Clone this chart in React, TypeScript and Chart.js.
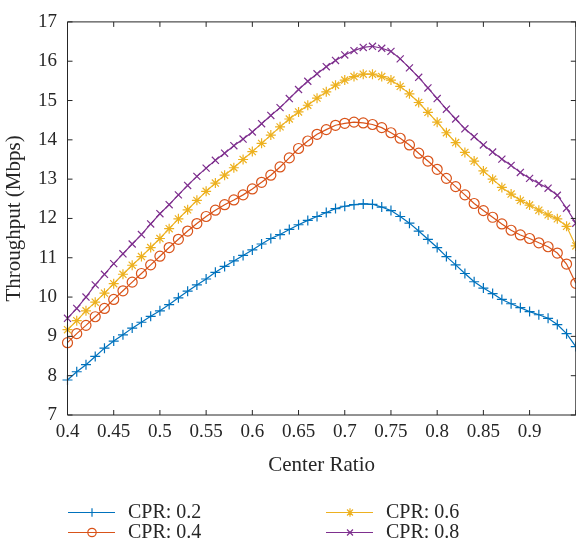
import React, { useEffect, useRef } from "react";
import { Chart, registerables } from "chart.js";
import { drawPoint } from "chart.js/helpers";

Chart.register(...registerables);

const centerRatio = [
  0.4, 0.41, 0.42, 0.43, 0.44, 0.45, 0.46, 0.47, 0.48, 0.49,
  0.5, 0.51, 0.52, 0.53, 0.54, 0.55, 0.56, 0.57, 0.58, 0.59,
  0.6, 0.61, 0.62, 0.63, 0.64, 0.65, 0.66, 0.67, 0.68, 0.69,
  0.7, 0.71, 0.72, 0.73, 0.74, 0.75, 0.76, 0.77, 0.78, 0.79,
  0.8, 0.81, 0.82, 0.83, 0.84, 0.85, 0.86, 0.87, 0.88, 0.89,
  0.9, 0.91, 0.92, 0.93, 0.94, 0.95,
];

const cpr02 = [
  7.89, 8.1, 8.28, 8.49, 8.7, 8.88, 9.04, 9.21, 9.36, 9.51,
  9.65, 9.81, 9.98, 10.15, 10.31, 10.46, 10.63, 10.78, 10.92, 11.06,
  11.2, 11.35, 11.49, 11.59, 11.72, 11.84, 11.95, 12.05, 12.15, 12.25,
  12.31, 12.35, 12.37, 12.36, 12.29, 12.2, 12.05, 11.88, 11.68, 11.47,
  11.26, 11.03, 10.82, 10.6, 10.39, 10.23, 10.09, 9.94, 9.83, 9.73,
  9.63, 9.55, 9.46, 9.3, 9.07, 8.74,
];

const cpr04 = [
  8.84, 9.07, 9.28, 9.5, 9.71, 9.94, 10.16, 10.38, 10.6, 10.82,
  11.04, 11.26, 11.47, 11.68, 11.87, 12.05, 12.21, 12.35, 12.47, 12.6,
  12.75, 12.92, 13.1, 13.31, 13.54, 13.78, 13.97, 14.14, 14.26, 14.37,
  14.42, 14.45, 14.43, 14.39, 14.31, 14.18, 14.04, 13.87, 13.66, 13.46,
  13.25, 13.02, 12.81, 12.6, 12.38, 12.2, 12.03, 11.86, 11.7, 11.58,
  11.49, 11.38, 11.28, 11.12, 10.84, 10.35,
];

const cpr06 = [
  9.17, 9.4, 9.65, 9.87, 10.1, 10.34, 10.58, 10.81, 11.03, 11.26,
  11.49, 11.74, 11.99, 12.22, 12.46, 12.69, 12.9, 13.1, 13.29, 13.5,
  13.7, 13.91, 14.12, 14.33, 14.53, 14.71, 14.88, 15.06, 15.22, 15.39,
  15.52, 15.61, 15.67, 15.67, 15.61, 15.52, 15.36, 15.17, 14.95, 14.7,
  14.45, 14.18, 13.93, 13.68, 13.46, 13.21, 13.0, 12.79, 12.62, 12.46,
  12.34, 12.21, 12.09, 11.99, 11.8, 11.3,
];

const cpr08 = [
  9.46, 9.71, 10.0, 10.31, 10.58, 10.85, 11.1, 11.35, 11.59, 11.86,
  12.12, 12.35, 12.6, 12.84, 13.07, 13.28, 13.48, 13.66, 13.85, 14.02,
  14.2, 14.41, 14.62, 14.82, 15.05, 15.28, 15.49, 15.68, 15.86, 16.02,
  16.16, 16.27, 16.35, 16.38, 16.33, 16.25, 16.06, 15.83, 15.59, 15.32,
  15.05, 14.78, 14.53, 14.28, 14.08, 13.87, 13.69, 13.51, 13.35, 13.17,
  13.02, 12.89, 12.77, 12.59, 12.26, 11.88,
];

const seriesLabels = ["CPR: 0.2", "CPR: 0.4", "CPR: 0.6", "CPR: 0.8"];
const xTicks = [0.4, 0.45, 0.5, 0.55, 0.6, 0.65, 0.7, 0.75, 0.8, 0.85, 0.9, 0.95];
const xTickLabels = ["0.4", "0.45", "0.5", "0.55", "0.6", "0.65", "0.7", "0.75", "0.8", "0.85", "0.9", ""];
const yTicks = [7, 8, 9, 10, 11, 12, 13, 14, 15, 16, 17];
const yTickLabels = ["7", "8", "9", "10", "11", "12", "13", "14", "15", "16", "17"];

const colors = ["#0072BD", "#D95319", "#EDB120", "#7E2F8E"];
const markers = ["cross", "circle", "star", "crossRot"];
const FONT = "'Liberation Serif', 'Times New Roman', serif";
const TEXT = "#262626";

const CANVAS_W = 582;
const CANVAS_H = 548;

const boxPlugin = {
  id: "matlabBox",
  afterDatasetsDraw(chart: any) {
    const { ctx, chartArea } = chart;
    const { left, right, top, bottom } = chartArea;
    const xs = chart.scales.x;
    const ys = chart.scales.y;
    const tl = 5;
    ctx.save();
    ctx.strokeStyle = TEXT;
    ctx.lineWidth = 1;
    ctx.beginPath();
    ctx.rect(left, top, right - left, bottom - top);
    xTicks.forEach((v) => {
      const px = xs.getPixelForValue(v);
      ctx.moveTo(px, bottom);
      ctx.lineTo(px, bottom - tl);
      ctx.moveTo(px, top);
      ctx.lineTo(px, top + tl);
    });
    yTicks.forEach((v) => {
      const py = ys.getPixelForValue(v);
      ctx.moveTo(left, py);
      ctx.lineTo(left + tl, py);
      ctx.moveTo(right, py);
      ctx.lineTo(right - tl, py);
    });
    ctx.stroke();
    ctx.restore();
  },
};

const legendRows = [512.5, 532.5];
const legendCols = [68, 326];

const legendPlugin = {
  id: "matlabLegend",
  afterDraw(chart: any) {
    const { ctx } = chart;
    ctx.save();
    chart.data.datasets.forEach((ds: any, i: number) => {
      const col = i < 2 ? 0 : 1;
      const row = i % 2;
      const x0 = legendCols[col];
      const y0 = legendRows[row];
      ctx.strokeStyle = ds.borderColor;
      ctx.lineWidth = 1.2;
      ctx.beginPath();
      ctx.moveTo(x0, y0);
      ctx.lineTo(x0 + 47, y0);
      ctx.stroke();
      ctx.fillStyle = "rgba(0,0,0,0)";
      ctx.lineWidth = 1.2;
      drawPoint(ctx, { pointStyle: ds.pointStyle, radius: 4.2, rotation: 0, borderWidth: 1.2 } as any, x0 + 24, y0);
      ctx.fillStyle = TEXT;
      ctx.font = `20px ${FONT}`;
      ctx.textBaseline = "middle";
      ctx.textAlign = "left";
      ctx.fillText(ds.label, x0 + 60, y0);
    });
    ctx.restore();
  },
};

export default function App() {
  const ref = useRef<HTMLCanvasElement | null>(null);

  useEffect(() => {
    if (!ref.current) return;
    const series = [cpr02, cpr04, cpr06, cpr08];
    const chart = new Chart(ref.current, {
      type: "line",
      data: {
        datasets: series.map((vals, i) => ({
          label: seriesLabels[i],
          data: centerRatio.map((x, j) => ({ x, y: vals[j] })),
          borderColor: colors[i],
          backgroundColor: colors[i],
          pointBorderColor: colors[i],
          pointBackgroundColor: "rgba(0,0,0,0)",
          pointStyle: markers[i] as any,
          pointRadius: 5,
          pointBorderWidth: 1.2,
          borderWidth: 1.2,
          tension: 0,
          fill: false,
          clip: false as any,
        })),
      },
      options: {
        animation: false,
        responsive: false,
        devicePixelRatio: 1,
        layout: { padding: { left: 0, top: 12.3, right: CANVAS_W - 578.5, bottom: CANVAS_H - 415 - 66.6 } },
        plugins: {
          legend: { display: false },
          tooltip: { enabled: false },
        },
        scales: {
          x: {
            type: "linear",
            min: 0.4,
            max: 0.95,
            afterBuildTicks: (s: any) => {
              s.ticks = xTicks.map((v) => ({ value: v }));
            },
            afterFit: (s: any) => {
              s.height = 66.6;
            },
            grid: { display: false, drawTicks: false },
            border: { display: false },
            ticks: {
              autoSkip: false,
              maxRotation: 0,
              padding: 6,
              color: TEXT,
              font: { family: FONT, size: 19 },
              callback: (_v: any, idx: number) => xTickLabels[idx],
            },
            title: {
              display: true,
              text: "Center Ratio",
              color: TEXT,
              font: { family: FONT, size: 21 },
              padding: { top: 4, bottom: 4 },
            },
          },
          y: {
            type: "linear",
            min: 7,
            max: 17,
            afterBuildTicks: (s: any) => {
              s.ticks = yTicks.map((v) => ({ value: v }));
            },
            afterFit: (s: any) => {
              s.width = 67.5;
            },
            grid: { display: false, drawTicks: false },
            border: { display: false },
            ticks: {
              autoSkip: false,
              padding: 10.5,
              color: TEXT,
              font: { family: FONT, size: 19 },
              callback: (_v: any, idx: number) => yTickLabels[idx],
            },
            title: {
              display: true,
              text: "Throughput (Mbps)",
              color: TEXT,
              font: { family: FONT, size: 21 },
              padding: { top: 2, bottom: 4 },
            },
          },
        },
      },
      plugins: [boxPlugin, legendPlugin],
    });
    return () => chart.destroy();
  }, []);

  return (
    <div style={{ position: "fixed", left: 0, top: 0, width: 576, height: 548, overflow: "hidden", background: "#fff" }}>
      <canvas ref={ref} width={CANVAS_W} height={CANVAS_H} style={{ display: "block", width: CANVAS_W, height: CANVAS_H }} />
    </div>
  );
}
